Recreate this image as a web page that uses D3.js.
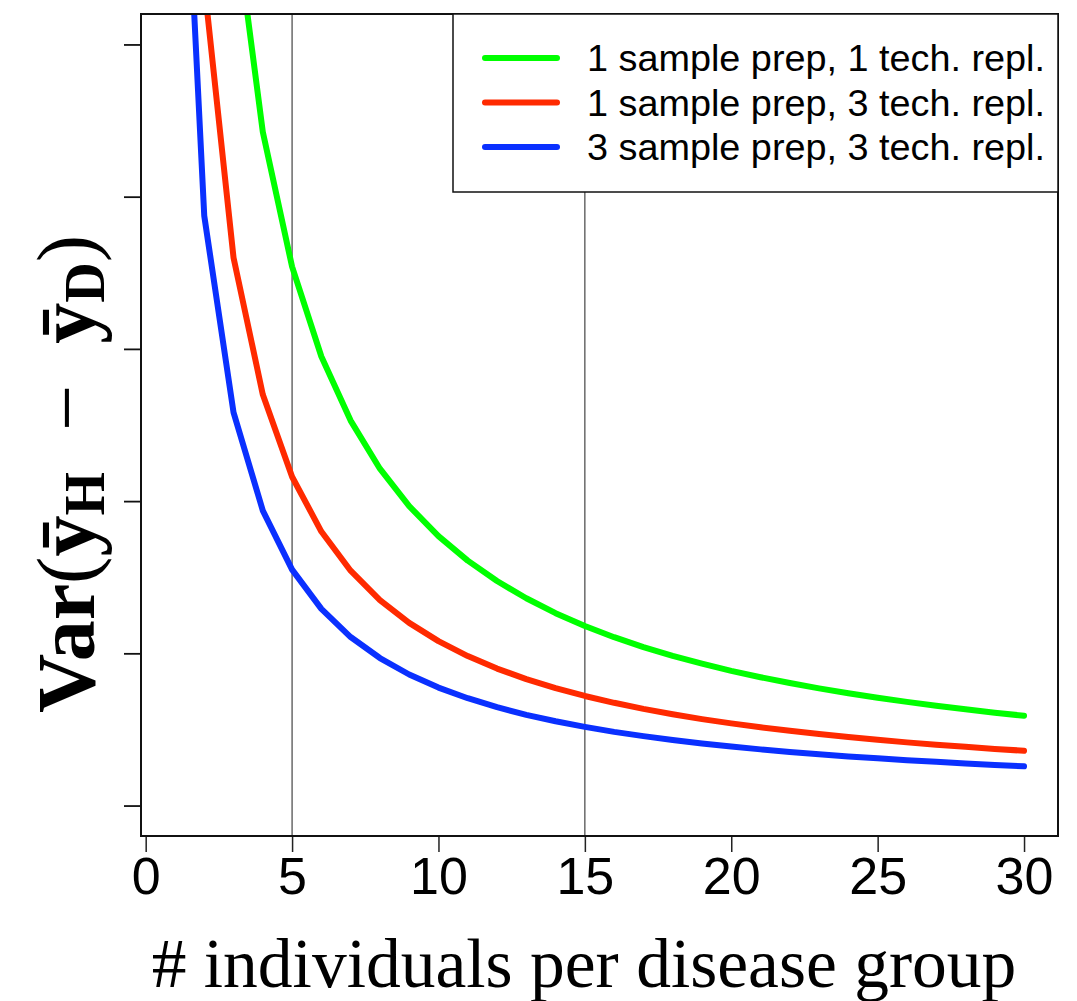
<!DOCTYPE html>
<html>
<head>
<meta charset="utf-8">
<script src="https://cdn.jsdelivr.net/npm/d3@7/dist/d3.min.js"></script>
<style>
  html, body { margin: 0; padding: 0; background: #fff; }
  svg { display: block; }
</style>
</head>
<body>
<svg id="chart" width="1077" height="1001"></svg>
<script>
// ---- data ----
const individuals = [1,2,3,4,5,6,7,8,9,10,11,12,13,14,15,16,17,18,19,20,21,22,23,24,25,26,27,28,29,30];
const var1prep1tech = [17.7,8.85,5.9,4.425,3.54,2.95,2.529,2.213,1.967,1.77,1.609,1.475,1.362,1.264,1.18,1.106,1.041,0.983,0.932,0.885,0.843,0.805,0.77,0.738,0.708,0.681,0.656,0.632,0.61,0.59];
const var1prep3tech = [10.8,5.4,3.6,2.7,2.16,1.8,1.543,1.35,1.2,1.08,0.982,0.9,0.831,0.771,0.72,0.675,0.635,0.6,0.568,0.54,0.514,0.491,0.47,0.45,0.432,0.415,0.4,0.386,0.372,0.36];
const var3prep3tech = [7.75,3.875,2.583,1.938,1.55,1.292,1.107,0.969,0.861,0.775,0.705,0.646,0.596,0.554,0.517,0.484,0.456,0.431,0.408,0.388,0.369,0.352,0.337,0.323,0.31,0.298,0.287,0.277,0.267,0.258];
const seriesNames = ["1 sample prep, 1 tech. repl.", "1 sample prep, 3 tech. repl.", "3 sample prep, 3 tech. repl."];
const seriesColors = ["#00ff00", "#ff2a00", "#0a30ff"];
const xTicks = [0,5,10,15,20,25,30];
const yTicks = [0,1,2,3,4,5];
const refLines = [5,15];
const xTitle = "# individuals per disease group";

const seriesValues = [var1prep1tech, var1prep3tech, var3prep3tech];

// ---- layout ----
const svg = d3.select("#chart");
const L = 141, R = 1058, T = 14, B = 836;

const x = d3.scaleLinear().domain([-0.16, 31.16]).range([L, R]);
const y = d3.scaleLinear().domain([-0.2, 5.2]).range([B, T]);

svg.append("defs").append("clipPath").attr("id", "plotclip")
  .append("rect").attr("x", L).attr("y", T).attr("width", R - L).attr("height", B - T);

// reference vertical lines
svg.append("g").selectAll("line").data(refLines).join("line")
  .attr("x1", d => x(d)).attr("x2", d => x(d))
  .attr("y1", T).attr("y2", B)
  .attr("stroke", "#444").attr("stroke-width", 1.2);

// curves
const line = d3.line().x(d => x(d[0])).y(d => y(d[1]));
svg.append("g").attr("clip-path", "url(#plotclip)")
  .selectAll("path").data(seriesValues).join("path")
  .attr("d", vals => line(individuals.map((n, i) => [n, vals[i]])))
  .attr("fill", "none")
  .attr("stroke", (d, i) => seriesColors[i])
  .attr("stroke-width", 6)
  .attr("stroke-linecap", "round")
  .attr("stroke-linejoin", "round");

// x axis
const xAxis = d3.axisBottom(x).tickValues(xTicks).tickSize(16).tickPadding(6).tickFormat(d3.format("d"));
const gx = svg.append("g").attr("transform", `translate(0,${B})`).call(xAxis);
gx.select(".domain").remove();
gx.selectAll(".tick line").attr("stroke", "#222").attr("stroke-width", 1.5);
gx.selectAll(".tick text")
  .attr("font-family", "'Liberation Sans', Arial, Helvetica, sans-serif")
  .attr("font-size", 52).attr("fill", "#000")
  .attr("dy", null).attr("y", 58);

// y axis (ticks only, no labels)
const yAxis = d3.axisLeft(y).tickValues(yTicks).tickSize(17).tickFormat("");
const gy = svg.append("g").attr("transform", `translate(${L},0)`).call(yAxis);
gy.select(".domain").remove();
gy.selectAll(".tick line").attr("stroke", "#111").attr("stroke-width", 1.8);

// plot frame
svg.append("rect").attr("x", L).attr("y", T).attr("width", R - L).attr("height", B - T)
  .attr("fill", "none").attr("stroke", "#111").attr("stroke-width", 2);

// legend
const lg = svg.append("g");
lg.append("rect").attr("x", 453).attr("y", T).attr("width", R - 453).attr("height", 192 - T)
  .attr("fill", "#fff").attr("stroke", "#111").attr("stroke-width", 1.5);
const rows = lg.selectAll("g.row").data(seriesNames).join("g").attr("class", "row")
  .attr("transform", (d, i) => `translate(0,${58 + i * 44.5})`);
rows.append("line").attr("x1", 485).attr("x2", 557).attr("y1", 0).attr("y2", 0)
  .attr("stroke", (d, i) => seriesColors[i]).attr("stroke-width", 6).attr("stroke-linecap", "round");
rows.append("text").attr("x", 587).attr("y", 13)
  .attr("font-family", "'Liberation Sans', Arial, Helvetica, sans-serif")
  .attr("font-size", 37.8).attr("fill", "#000").text(d => d);

// x axis title
svg.append("text").attr("x", 584).attr("y", 987).attr("text-anchor", "middle")
  .attr("font-family", "'Liberation Serif', 'Times New Roman', serif")
  .attr("font-size", 69.5).attr("fill", "#000").text(xTitle);

// y axis title
const yt = svg.append("text")
  .attr("transform", "translate(94,474) rotate(-90)")
  .attr("text-anchor", "middle")
  .attr("font-family", "'Liberation Serif', 'DejaVu Serif', serif")
  .attr("font-size", 82).attr("fill", "#000");
yt.append("tspan").attr("font-weight", "bold").text("Var");
yt.append("tspan").attr("font-weight", "normal").text("(");
yt.append("tspan").attr("font-weight", "bold").text("\u0233");
yt.append("tspan").attr("font-weight", "bold").attr("font-size", 56).attr("dy", 10).text("H");
yt.append("tspan").attr("font-weight", "normal").attr("dy", -10).text("\u2002\u2212\u2002");
yt.append("tspan").attr("font-weight", "bold").text("\u0233");
yt.append("tspan").attr("font-weight", "bold").attr("font-size", 56).attr("dy", 10).text("D");
yt.append("tspan").attr("font-weight", "normal").attr("dy", -10).text(")");
</script>
</body>
</html>
